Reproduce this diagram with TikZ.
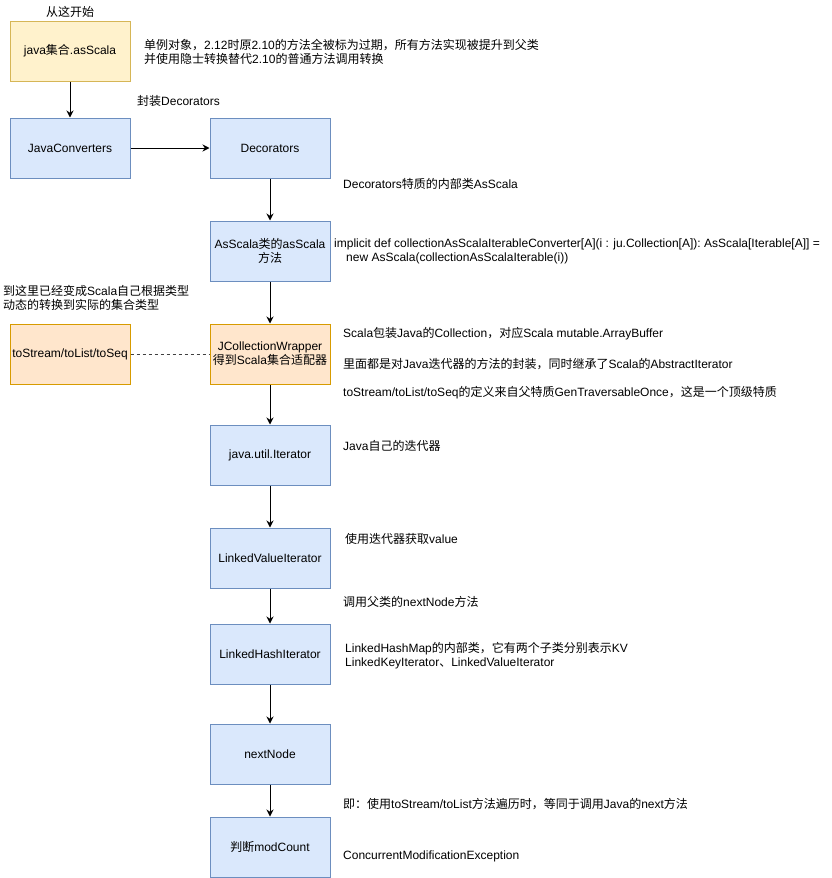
\documentclass[tikz,border=0pt]{standalone}
\usepackage{fontspec}
\usepackage{xcolor}
\usepackage{tikz}
\usetikzlibrary{arrows.meta, positioning}
\setmainfont{Liberation Sans}
\newfontfamily\cjk{Noto Sans CJK SC}
\newcommand{\zh}[1]{{\cjk #1}}

\definecolor{bluefill}{HTML}{DAE8FC}
\definecolor{blueline}{HTML}{6C8EBF}
\definecolor{yellowfill}{HTML}{FFF2CC}
\definecolor{yellowline}{HTML}{D6B656}
\definecolor{orangefill}{HTML}{FFE6CC}
\definecolor{orangeline}{HTML}{D79B00}

\begin{document}
\begin{tikzpicture}[x=1pt, y=-1pt, >={Stealth[length=7pt, width=7pt]},
    font=\fontsize{12pt}{14pt}\selectfont,
    box/.style={draw, line width=1pt, rectangle, align=center, minimum width=120pt, minimum height=60pt, inner sep=2pt},
    bluebox/.style={box, draw=blueline, fill=bluefill},
    yellowbox/.style={box, draw=yellowline, fill=yellowfill},
    orangebox/.style={box, draw=orangeline, fill=orangefill},
    note/.style={anchor=west, inner sep=0pt, align=left},
    flow/.style={->, line width=1pt},
    dashlink/.style={line width=1pt, black!75, dash pattern=on 3pt off 3pt}]
    \useasboundingbox (0,0) rectangle (832,878);

    \node[yellowbox] (start) at (70,51) {java\zh{集合}.asScala};
    \node[inner sep=0pt, above=3pt of start] (begin) {\zh{从这开始}};
    \node[bluebox, below=36pt of start] (conv) {JavaConverters};
    \node[bluebox, right=79pt of conv] (dec) {Decorators};
    \node[bluebox, below=42pt of dec] (asscala) {AsScala\zh{类的}asScala\\\zh{方法}};
    \node[orangebox, below=42pt of asscala] (wrap) {JCollectionWrapper\\\zh{得到}Scala\zh{集合适配器}};
    \node[orangebox, left=79pt of wrap] (toseq) {toStream/toList/toSeq};
    \node[bluebox, below=40pt of wrap] (iter) {java.util.Iterator};
    \node[bluebox, below=42pt of iter] (lvi) {LinkedValueIterator};
    \node[bluebox, below=35pt of lvi] (lhi) {LinkedHashIterator};
    \node[bluebox, below=39pt of lhi] (next) {nextNode};
    \node[bluebox, below=32pt of next] (mod) {\zh{判断}modCount};

    \node[note] (n1) at (144,52) {\zh{单例对象，}2.12\zh{时原}2.10\zh{的方法全被标为过期，所有方法实现被提升到父类}\\\zh{并使用隐士转换替代}2.10\zh{的普通方法调用转换}};
    \node[note] (n2) at (137,101) {\zh{封装}Decorators};
    \node[note] (n3) at (343,184) {Decorators\zh{特质的内部类}AsScala};
    \node[note] (n4) at (334,251) {implicit def collectionAsScalaIterableConverter[A](i : ju.Collection[A]): AsScala[Iterable[A]] =\\\hspace*{12pt}new AsScala(collectionAsScalaIterable(i))};
    \node[note] (n5) at (3,298) {\zh{到这里已经变成}Scala\zh{自己根据类型}\\\zh{动态的转换到实际的集合类型}};
    \node[note] (n6) at (343,334) {Scala\zh{包装}Java\zh{的}Collection\zh{，对应}Scala mutable.ArrayBuffer};
    \node[note] (n7) at (343,364) {\zh{里面都是对}Java\zh{迭代器的方法的封装，同时继承了}Scala\zh{的}AbstractIterator};
    \node[note] (n8) at (343,393) {toStream/toList/toSeq\zh{的定义来自父特质}GenTraversableOnce\zh{，这是一个顶级特质}};
    \node[note] (n9) at (343,446) {Java\zh{自己的迭代器}};
    \node[note] (n10) at (345,539) {\zh{使用迭代器获取}value};
    \node[note] (n11) at (343,602) {\zh{调用父类的}nextNode\zh{方法}};
    \node[note] (n12) at (345,656) {LinkedHashMap\zh{的内部类，它有两个子类分别表示}KV\\LinkedKeyIterator\zh{、}LinkedValueIterator};
    \node[note] (n13) at (343,804) {\zh{即：使用}toStream/toList\zh{方法遍历时，等同于调用}Java\zh{的}next\zh{方法}};
    \node[note] (n14) at (343,856) {ConcurrentModificationException};

    \draw[flow] (start) -- (conv);
    \draw[flow] (conv) -- (dec);
    \draw[flow] (dec) -- (asscala);
    \draw[flow] (asscala) -- (wrap);
    \draw[flow] (wrap) -- (iter);
    \draw[flow] (iter) -- (lvi);
    \draw[flow] (lvi) -- (lhi);
    \draw[flow] (lhi) -- (next);
    \draw[flow] (next) -- (mod);
    \draw[dashlink] (toseq) -- (wrap);
\end{tikzpicture}
\end{document}
